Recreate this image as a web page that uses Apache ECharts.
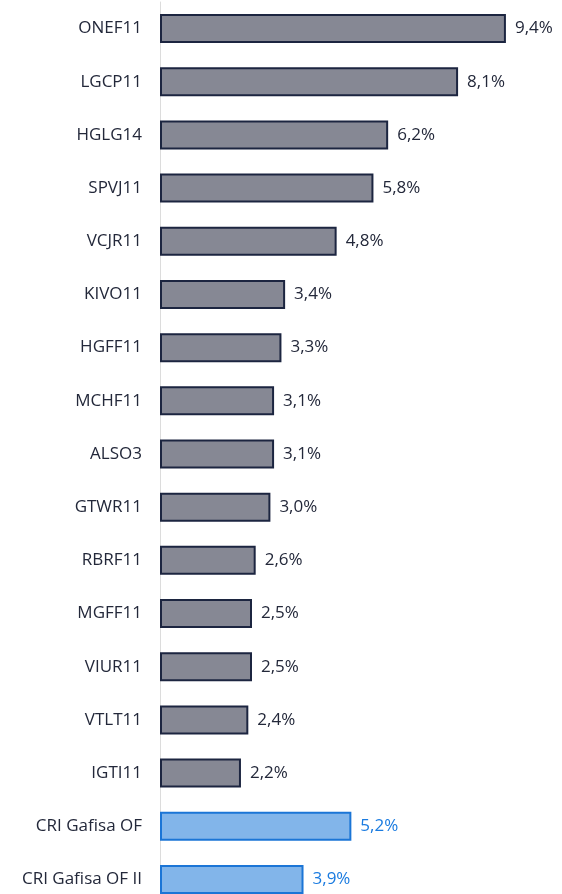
<!DOCTYPE html>
<html>
<head>
<meta charset="utf-8">
<script src="https://cdn.jsdelivr.net/npm/echarts@6/dist/echarts.min.js"></script>
<style>
  html, body { margin: 0; padding: 0; background: #fff; }
  #chart { width: 562px; height: 894px; }
</style>
</head>
<body>
<div id="chart"></div>
<script>
  var FONT = '"Open Sans", "Noto Sans", sans-serif';
  var TEXT = '#23283a';
  var BLUE_TEXT = '#1a7be0';

  var NAMES = ['ONEF11', 'LGCP11', 'HGLG14', 'SPVJ11', 'VCJR11', 'KIVO11', 'HGFF11', 'MCHF11',
    'ALSO3', 'GTWR11', 'RBRF11', 'MGFF11', 'VIUR11', 'VTLT11', 'IGTI11', 'CRI Gafisa OF', 'CRI Gafisa OF II'];
  var VALUES = [9.4, 8.1, 6.2, 5.8, 4.8, 3.4, 3.3, 3.1, 3.1, 3.0, 2.6, 2.5, 2.5, 2.4, 2.2, 5.2, 3.9];
  var HIGHLIGHT = ['CRI Gafisa OF', 'CRI Gafisa OF II'];

  function fmt(v) {
    return v.toFixed(1).replace('.', ',') + '%';
  }

  var data = VALUES.map(function (v, i) {
    var hi = HIGHLIGHT.indexOf(NAMES[i]) >= 0;
    return {
      value: v,
      itemStyle: hi
        ? { color: '#82b5ea', borderColor: '#1b75d6', borderWidth: 2 }
        : { color: '#868894', borderColor: '#1c2540', borderWidth: 2 },
      label: { color: hi ? BLUE_TEXT : TEXT }
    };
  });

  var chart = echarts.init(document.getElementById('chart'), null, { renderer: 'canvas' });
  chart.setOption({
    animation: false,
    backgroundColor: '#fff',
    textStyle: { fontFamily: FONT },
    grid: { left: 160, right: 34, top: 2, bottom: -12, containLabel: false, outerBoundsMode: 'none' },
    xAxis: {
      type: 'value',
      min: 0,
      max: 10,
      show: false
    },
    yAxis: {
      type: 'category',
      inverse: true,
      data: NAMES,
      axisLine: { show: true, lineStyle: { color: '#dcdcdc', width: 1 } },
      axisTick: { show: false },
      axisLabel: { color: TEXT, fontSize: 17, margin: 18, fontFamily: FONT }
    },
    series: [{
      type: 'bar',
      barWidth: 29,
      data: data,
      label: {
        show: true,
        position: 'right',
        distance: 9,
        fontSize: 17,
        fontFamily: FONT,
        formatter: function (p) { return fmt(p.value); }
      }
    }]
  });
</script>
</body>
</html>
